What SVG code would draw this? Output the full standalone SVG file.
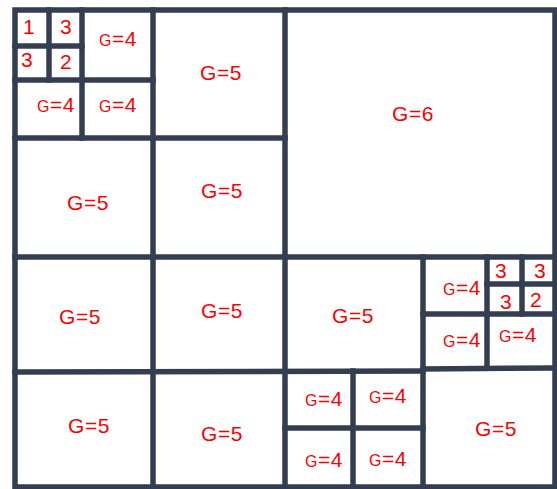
<svg xmlns="http://www.w3.org/2000/svg" width="557" height="489" viewBox="0 0 557 489">
<style>
.ln{stroke:#333e50;stroke-width:5.5;stroke-linecap:square;fill:none}
.t{font-family:"Liberation Sans",Arial,sans-serif;font-size:21px;fill:#ff0000;text-anchor:middle;letter-spacing:0.5px}
.s{font-size:16px}
</style>
<rect width="557" height="489" fill="#ffffff"/>
<g id="grid">
<rect class="ln" x="15" y="10" width="540" height="477"/>
<line class="ln" x1="153" y1="10" x2="153" y2="487"/>
<line class="ln" x1="285" y1="10" x2="285" y2="487"/>
<line class="ln" x1="82" y1="10" x2="82" y2="138"/>
<line class="ln" x1="49" y1="10" x2="49" y2="80"/>
<line class="ln" x1="423" y1="257" x2="423" y2="487"/>
<line class="ln" x1="353" y1="371" x2="353" y2="487"/>
<line class="ln" x1="487" y1="257" x2="487" y2="368"/>
<line class="ln" x1="522" y1="257" x2="522" y2="314"/>
<line class="ln" x1="15" y1="138" x2="285" y2="138"/>
<line class="ln" x1="15" y1="257" x2="555" y2="257"/>
<line class="ln" x1="15" y1="372" x2="423" y2="371"/>
<line class="ln" x1="423" y1="369" x2="555" y2="368"/>
<line class="ln" x1="15" y1="80" x2="153" y2="80"/>
<line class="ln" x1="15" y1="46" x2="82" y2="46"/>
<line class="ln" x1="423" y1="314" x2="555" y2="314"/>
<line class="ln" x1="487" y1="284" x2="555" y2="284"/>
<line class="ln" x1="285" y1="428" x2="423" y2="428"/>
</g>
<g id="n1"><text class="t" x="29" y="34">1</text></g>
<g id="n2"><text class="t" x="66" y="34">3</text></g>
<g id="n3"><text class="t" x="27" y="67">3</text></g>
<g id="n4"><text class="t" x="66" y="69">2</text></g>
<g id="n5"><text class="t" x="118" y="46"><tspan class="s">G</tspan>=4</text></g>
<g id="n6"><text class="t" x="56" y="112"><tspan class="s">G</tspan>=4</text></g>
<g id="n7"><text class="t" x="118" y="112"><tspan class="s">G</tspan>=4</text></g>
<g id="n8"><text class="t" x="221" y="80">G=5</text></g>
<g id="n9"><text class="t" x="413" y="121">G=6</text></g>
<g id="n10"><text class="t" x="88" y="210">G=5</text></g>
<g id="n11"><text class="t" x="222" y="198">G=5</text></g>
<g id="n12"><text class="t" x="80" y="324">G=5</text></g>
<g id="n13"><text class="t" x="222" y="318">G=5</text></g>
<g id="n14"><text class="t" x="353" y="323">G=5</text></g>
<g id="n15"><text class="t" x="462" y="295"><tspan class="s">G</tspan>=4</text></g>
<g id="n16"><text class="t" x="501" y="278">3</text></g>
<g id="n17"><text class="t" x="540" y="278">3</text></g>
<g id="n18"><text class="t" x="506" y="309">3</text></g>
<g id="n19"><text class="t" x="536" y="307">2</text></g>
<g id="n20"><text class="t" x="462" y="347"><tspan class="s">G</tspan>=4</text></g>
<g id="n21"><text class="t" x="518" y="342"><tspan class="s">G</tspan>=4</text></g>
<g id="n22"><text class="t" x="89" y="433">G=5</text></g>
<g id="n23"><text class="t" x="222" y="441">G=5</text></g>
<g id="n24"><text class="t" x="324" y="406"><tspan class="s">G</tspan>=4</text></g>
<g id="n25"><text class="t" x="388" y="403"><tspan class="s">G</tspan>=4</text></g>
<g id="n26"><text class="t" x="324" y="467"><tspan class="s">G</tspan>=4</text></g>
<g id="n27"><text class="t" x="388" y="466"><tspan class="s">G</tspan>=4</text></g>
<g id="n28"><text class="t" x="496" y="436">G=5</text></g>
</svg>
